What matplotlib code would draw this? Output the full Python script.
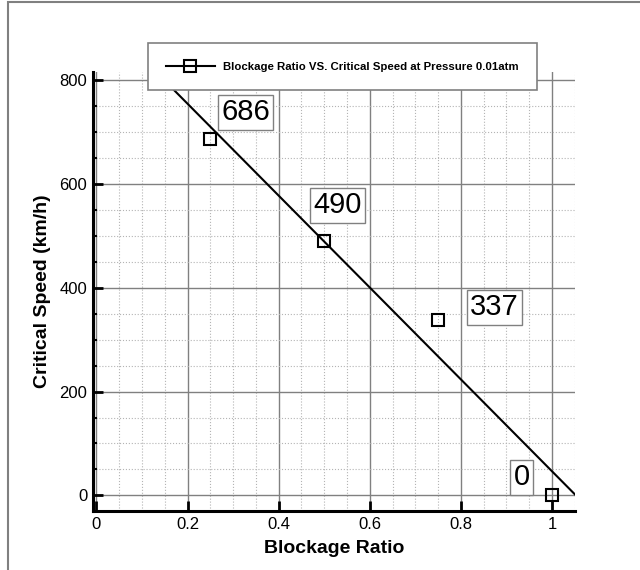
import matplotlib
matplotlib.use("Agg")
import matplotlib.pyplot as plt
from matplotlib.lines import Line2D
from matplotlib.patches import Rectangle
from matplotlib.ticker import MultipleLocator
import numpy as np

plt.rcParams['font.family'] = ['Liberation Sans', 'DejaVu Sans']

# blockage ratio vs critical speed, pressure 0.01 atm
blockage = [0.25, 0.5, 0.75, 1.0]
speed = [686, 490, 337, 0]
label_pos = [(0.327, 738), (0.529, 559), (0.874, 362), (0.934, 35)]

fig = plt.figure(figsize=(6.4, 5.7), dpi=100)
ax = fig.add_axes([0.145, 0.1035, 0.753, 0.770])

# outer frame
fig.patches.append(Rectangle((8 / 640, -0.05), 1.1, 1.05 - 2.5 / 570,
                             transform=fig.transFigure, fill=False,
                             edgecolor='#808080', linewidth=1.5))

# linear fit through the points
k, b = np.polyfit(blockage, speed, 1)
xf = np.array([0.0, 1.05])
ax.plot(xf, k * xf + b, color='black', linewidth=1.5, zorder=3)
ax.plot(blockage, speed, linestyle='none', marker='s', markersize=8.5,
        markerfacecolor='none', markeredgecolor='black',
        markeredgewidth=1.5, zorder=4)

for (tx, ty), v in zip(label_pos, speed):
    ax.text(tx, ty, str(v), fontsize=21, ha='center', va='center', zorder=5,
            bbox=dict(boxstyle='square,pad=0.12', facecolor='white',
                      edgecolor='#808080', linewidth=1))

ax.set_xlim(-0.008, 1.05)
ax.set_ylim(-30, 815)
ax.xaxis.set_major_locator(MultipleLocator(0.2))
ax.xaxis.set_minor_locator(MultipleLocator(0.05))
ax.yaxis.set_major_locator(MultipleLocator(200))
ax.yaxis.set_minor_locator(MultipleLocator(50))
ax.set_xticks([0, 0.2, 0.4, 0.6, 0.8, 1.0])
ax.set_xticklabels(['0', '0.2', '0.4', '0.6', '0.8', '1'])

ax.grid(which='major', color='#808080', linewidth=1, linestyle='-')
ax.grid(which='minor', color='#b4b4b4', linewidth=0.8, linestyle=':')
ax.set_axisbelow(True)

for side in ['top', 'right']:
    ax.spines[side].set_visible(False)
for side in ['left', 'bottom']:
    ax.spines[side].set_linewidth(2.2)

ax.tick_params(which='major', direction='in', length=7, width=2,
               labelsize=12, pad=4)
ax.tick_params(axis='y', which='minor', direction='in', length=3, width=1.5)
ax.tick_params(axis='x', which='minor', length=0)

ax.set_xlabel('Blockage Ratio', fontsize=14, fontweight='bold', labelpad=6)
ax.set_ylabel('Critical Speed (km/h)', fontsize=14, fontweight='bold',
              labelpad=6)

handle = Line2D([], [], color='black', linewidth=1.5, marker='s',
                markersize=8.5, markerfacecolor='none',
                markeredgecolor='black', markeredgewidth=1.5)
leg = fig.legend([handle], ['Blockage Ratio VS. Critical Speed at Pressure 0.01atm'],
                 loc='center', bbox_to_anchor=(342.5 / 640, 1 - 66.5 / 570),
                 prop=dict(size=8.2, weight='bold'), frameon=True,
                 fancybox=False, borderpad=1.6, handlelength=4.3,
                 handletextpad=0.75)
leg.get_frame().set_edgecolor('#808080')
leg.get_frame().set_linewidth(1.2)
leg.get_frame().set_alpha(1)
leg.set_zorder(10)

fig.savefig('out.png', dpi=100)
